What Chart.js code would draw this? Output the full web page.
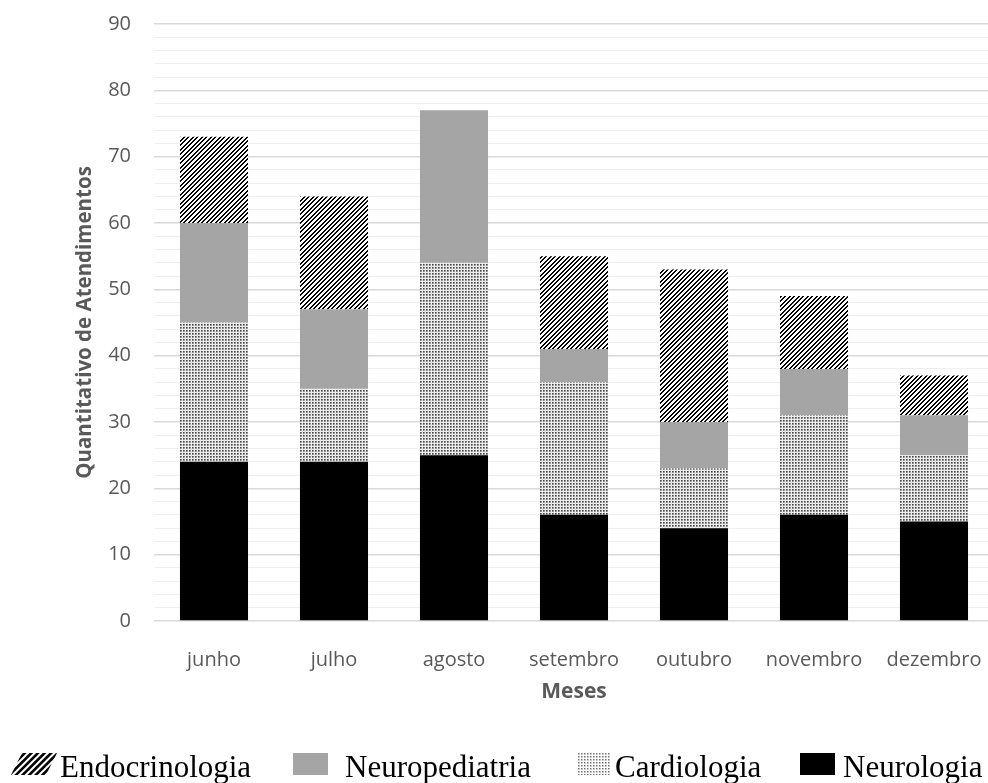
<!DOCTYPE html>
<html><head><meta charset="utf-8">
<script src="https://cdn.jsdelivr.net/npm/chart.js@4/dist/chart.umd.min.js"></script>
<style>
html,body{margin:0;padding:0;background:#fff;overflow:hidden;width:988px;height:783px;}
#wrap{position:relative;width:988px;height:783px;overflow:hidden;background:#fff;}
#c{position:absolute;left:0;top:0;}
.lg{position:absolute;font-family:"Liberation Serif","Times New Roman",serif;font-size:31px;line-height:31px;color:#000;white-space:nowrap;}
.sw{position:absolute;}
</style></head><body>
<div id="wrap"><canvas id="c" width="1000" height="783"></canvas><div id="legend"></div></div>
<script>
// ---- data ----
const months = ['junho','julho','agosto','setembro','outubro','novembro','dezembro'];
const seriesNames = ['Neurologia','Cardiologia','Neuropediatria','Endocrinologia'];
const neurologia     = [24, 24, 25, 16, 14, 16, 15];
const cardiologia    = [21, 11, 29, 20,  9, 15, 10];
const neuropediatria = [15, 12, 23,  5,  7,  7,  6];
const endocrinologia = [13, 17,  0, 14, 23, 11,  6];
const yMin = 0, yMax = 90, yMajorStep = 10, yMinorStep = 2;
const xTitle = 'Meses';
const yTitle = 'Quantitativo de Atendimentos';

// ---- patterns ----
function stripePattern(size, blackSet){
  const c=document.createElement('canvas'); c.width=c.height=size;
  const ctx=c.getContext('2d'); const img=ctx.createImageData(size,size);
  for(let y=0;y<size;y++)for(let x=0;x<size;x++){
    const r=(x+y)%size; const v=blackSet.includes(r)?0:255; const i=(y*size+x)*4;
    img.data[i]=img.data[i+1]=img.data[i+2]=v; img.data[i+3]=255;
  }
  ctx.putImageData(img,0,0); return c;
}
function dotPattern(vals){
  const n=vals.length; const c=document.createElement('canvas'); c.width=c.height=n;
  const ctx=c.getContext('2d'); const img=ctx.createImageData(n,n);
  for(let y=0;y<n;y++)for(let x=0;x<n;x++){const v=vals[y][x];const i=(y*n+x)*4;
    img.data[i]=img.data[i+1]=img.data[i+2]=v; img.data[i+3]=255;}
  ctx.putImageData(img,0,0); return c;
}
const mainCtx=document.getElementById('c').getContext('2d');
const stripeTile=stripePattern(9,[0,1,5,6]);
const dotTile=dotPattern([[70,130,236],[130,165,236],[236,236,236]]);
const stripeFill=mainCtx.createPattern(stripeTile,'repeat');
const dotFill=mainCtx.createPattern(dotTile,'repeat');
const colors=['#000000',dotFill,'#a5a5a5',stripeFill];

// ---- chart ----
const major = v => Math.abs(Math.round(v) % yMajorStep) === 0;
new Chart(document.getElementById('c'), {
  type:'bar',
  data:{
    labels: months,
    datasets:[
      {label:seriesNames[0], data:neurologia, backgroundColor:colors[0]},
      {label:seriesNames[1], data:cardiologia, backgroundColor:colors[1]},
      {label:seriesNames[2], data:neuropediatria, backgroundColor:colors[2]},
      {label:seriesNames[3], data:endocrinologia, backgroundColor:colors[3]}
    ].map(d=>Object.assign(d,{borderWidth:0,categoryPercentage:0.567,barPercentage:1}))
  },
  options:{
    responsive:false, animation:false, events:[],
    layout:{padding:{top:24,right:6,bottom:0,left:0}},
    plugins:{legend:{display:false},tooltip:{enabled:false}},
    scales:{
      x:{stacked:true, grid:{display:false}, border:{display:false},
        ticks:{padding:19,color:'#595959',font:{family:'"Open Sans"',size:20}},
        title:{display:true,text:xTitle,color:'#595959',font:{family:'"Open Sans"',size:21,weight:'bold'},padding:{top:0,bottom:78.4}},
        afterFit:s=>{s.height=162; s.paddingLeft=0; s.paddingRight=0;}
      },
      y:{stacked:true, min:yMin, max:yMax, border:{display:false},
        grid:{drawTicks:false, color:c=>major(c.tick.value)?'#d9d9d9':'#efefef', lineWidth:c=>major(c.tick.value)?1.5:1},
        ticks:{stepSize:yMinorStep, autoSkip:false, padding:23, color:'#595959', font:{family:'"Open Sans"',size:20},
          callback:v=>major(v)?String(v):''},
        title:{display:true,text:yTitle,color:'#595959',font:{family:'"Open Sans"',size:20.5,weight:'bold'},padding:{top:73,bottom:0}},
        afterFit:s=>{s.width=154; s.paddingTop=0; s.paddingBottom=0;}
      }
    }
  }
});

// ---- legend (HTML, reversed order) ----
const legend=document.getElementById('legend');
const legendItems=[
  {name:seriesNames[3], sw:{x:10,y:752,w:48,h:24}, tx:60},
  {name:seriesNames[2], sw:{x:293,y:753,w:35,h:22}, tx:345},
  {name:seriesNames[1], sw:{x:578,y:753,w:32,h:22}, tx:615},
  {name:seriesNames[0], sw:{x:800,y:753,w:35,h:22}, tx:843}
];
legendItems.forEach((it,i)=>{
  const cv=document.createElement('canvas'); cv.className='sw';
  cv.width=it.sw.w; cv.height=it.sw.h; cv.style.left=it.sw.x+'px'; cv.style.top=it.sw.y+'px';
  const g=cv.getContext('2d');
  if(i===0){
    g.save(); g.beginPath(); g.moveTo(1,it.sw.h-1); g.lineTo(36,it.sw.h-1); g.lineTo(47,1); g.lineTo(12,1); g.closePath(); g.clip();
    g.strokeStyle='#000'; g.lineWidth=2.6;
    for(let k=-30;k<90;k+=6.6){g.beginPath();g.moveTo(k,it.sw.h+2);g.lineTo(k+it.sw.h+4,-2);g.stroke();}
    g.restore();
  } else if(i===2){
    g.fillStyle=g.createPattern(dotPattern([[110,190,250],[190,210,250],[250,250,250]]),'repeat');
    g.fillRect(0,0,it.sw.w,it.sw.h);
  } else {
    g.fillStyle = i===1 ? '#a5a5a5' : '#000'; g.fillRect(0,0,it.sw.w,it.sw.h);
  }
  legend.appendChild(cv);
  const t=document.createElement('div'); t.className='lg'; t.textContent=it.name;
  t.style.left=it.tx+'px'; t.style.top='751px'; legend.appendChild(t);
});
</script>
</body></html>
